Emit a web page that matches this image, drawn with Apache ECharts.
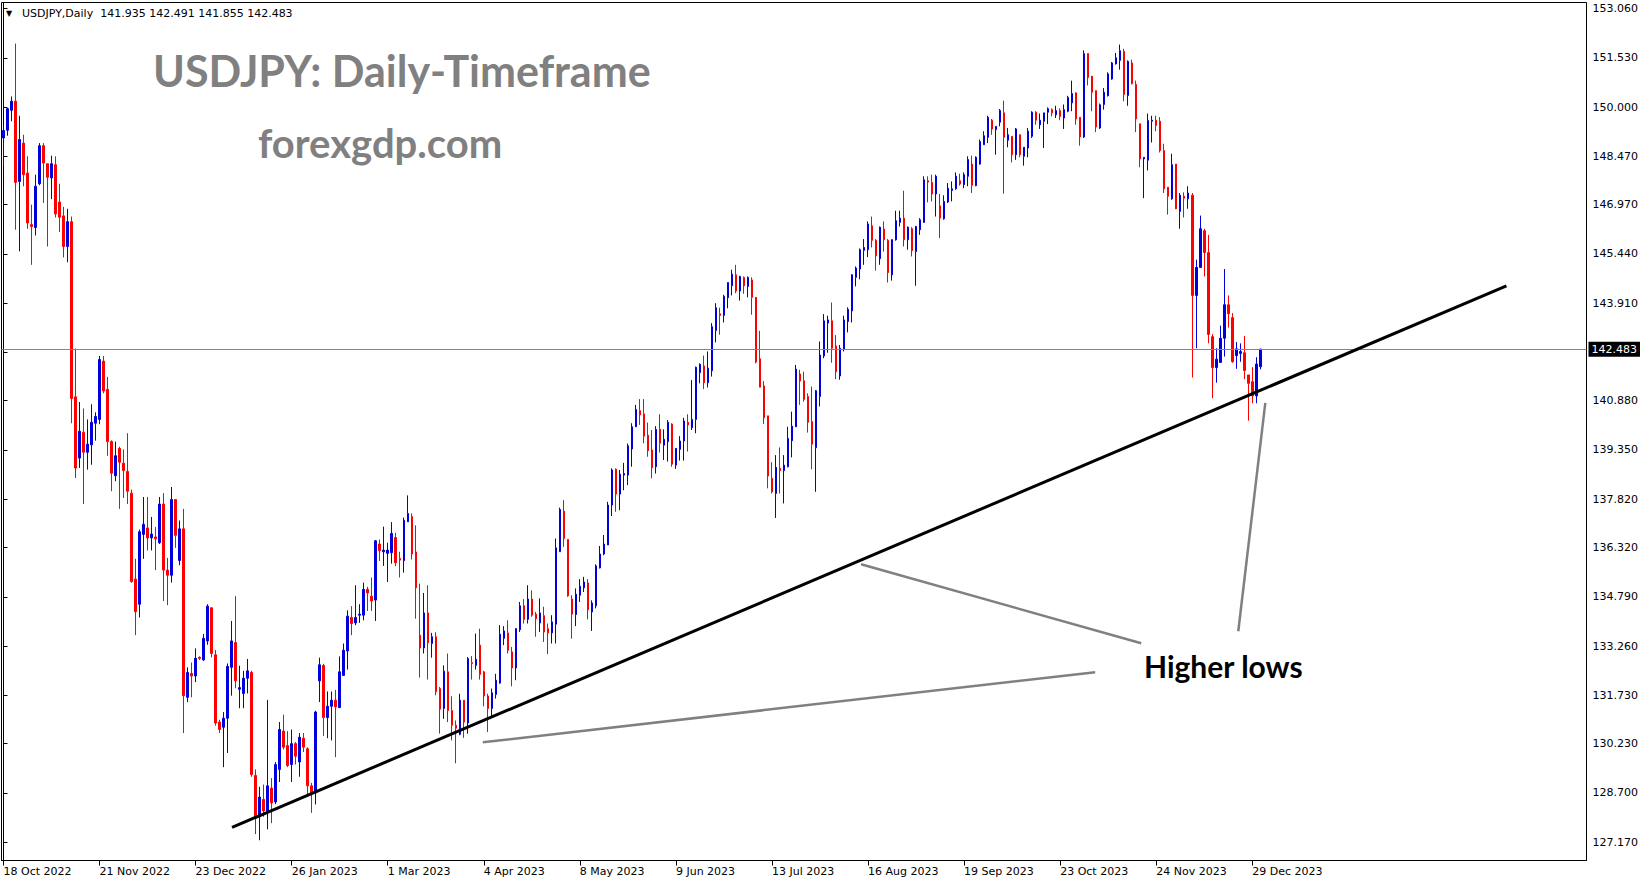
<!DOCTYPE html>
<html><head><meta charset="utf-8">
<script src="https://cdn.jsdelivr.net/npm/echarts@6/dist/echarts.min.js"></script>
<style>html,body{margin:0;padding:0;background:#fff;overflow:hidden}#c{width:1649px;height:884px}</style>
</head><body><div id="c"></div>
<script>
// ---- data ----
const opens = [149.04,149.28,149.90,150.18,147.69,148.88,147.95,146.35,146.26,147.62,148.80,148.24,147.80,148.21,147.05,146.62,145.67,146.44,141.00,139.10,
139.90,139.28,139.51,140.18,140.30,142.11,141.23,139.61,138.55,139.40,138.94,138.68,138.01,135.34,134.56,136.73,136.93,136.62,136.65,136.47,
137.67,135.62,135.46,137.81,135.92,136.90,131.67,132.41,132.33,132.91,132.83,133.42,134.45,132.99,130.90,130.74,131.02,132.60,133.37,131.92,
131.79,132.26,132.44,129.24,127.96,128.50,128.14,128.85,128.42,129.43,130.62,130.17,129.58,130.23,129.66,130.40,130.07,128.92,128.70,132.18,
132.66,131.04,131.39,131.58,131.35,132.35,133.11,134.15,133.98,134.22,134.22,135.02,134.81,134.69,136.43,136.19,136.14,136.16,136.63,135.98,
135.91,137.12,137.28,136.18,133.60,133.20,134.29,133.34,133.55,131.94,131.32,132.46,131.26,130.80,130.52,131.58,130.87,132.75,132.66,133.29,
132.46,131.71,131.32,131.76,132.11,133.50,133.67,133.08,132.58,133.77,134.51,134.09,134.72,134.25,133.98,134.20,133.80,133.67,133.94,136.19,
137.45,136.57,134.72,134.24,134.84,135.07,135.22,134.32,134.51,135.69,136.12,136.40,137.64,138.75,137.98,138.57,138.57,139.38,140.07,140.57,
140.47,139.81,139.35,138.83,139.99,139.50,139.61,140.15,138.88,139.37,139.63,140.21,140.04,140.30,141.75,141.96,141.44,141.81,143.06,143.58,
143.53,144.08,144.45,144.79,144.29,144.71,144.43,144.63,144.09,142.18,141.34,140.41,138.47,138.00,138.78,138.71,138.83,139.64,140.07,141.71,
141.50,141.01,140.23,139.42,141.01,142.27,143.29,143.36,142.58,141.65,142.48,143.34,143.67,144.71,144.97,145.55,145.57,146.31,145.86,145.29,
146.21,145.86,144.79,145.88,146.42,146.55,145.88,146.22,145.51,146.19,146.42,147.71,147.66,147.30,146.93,146.53,147.05,147.41,147.46,147.71,
147.59,147.85,148.23,147.56,148.23,148.83,149.06,149.59,149.30,149.53,149.82,148.97,149.09,148.52,149.14,148.47,148.73,149.09,149.84,149.45,
149.56,149.84,149.92,149.76,149.89,149.66,149.87,150.13,150.44,149.68,149.07,151.66,150.96,150.51,149.35,150.08,150.35,150.87,151.34,151.45,
151.73,150.36,151.37,150.70,149.48,148.39,148.35,149.56,149.59,149.56,148.65,147.51,147.15,148.23,146.76,147.23,147.15,147.26,144.15,145.02,
146.16,145.48,142.87,141.91,142.07,142.82,143.86,143.46,142.28,142.35,142.37,141.68,141.47,141.03,141.935];
const highs = [149.42,149.97,150.33,151.97,149.73,149.14,148.47,146.97,147.90,148.88,148.88,148.24,148.49,148.47,147.62,146.90,146.84,146.60,142.50,140.84,
140.64,140.30,140.77,140.52,142.27,142.27,141.62,139.65,139.61,139.45,139.37,139.87,138.12,135.97,136.88,137.89,137.89,137.27,136.96,137.89,
138.01,136.00,138.20,137.81,137.16,137.52,132.60,132.75,133.19,132.94,133.64,134.56,134.45,133.14,130.97,131.21,132.72,134.04,134.81,132.65,
132.49,132.86,132.49,129.43,128.89,128.96,131.59,129.16,129.66,130.90,131.13,130.62,130.67,130.28,130.56,130.56,130.12,129.01,131.25,132.90,
132.71,131.85,131.85,131.90,132.94,133.34,134.37,134.50,135.15,134.56,135.23,135.10,135.39,136.55,136.57,136.97,136.47,137.11,136.78,136.19,
137.25,137.94,137.38,137.01,135.20,134.91,135.15,133.67,133.69,131.99,132.66,133.03,131.70,130.95,131.78,131.58,132.92,132.95,133.65,133.80,
132.49,131.78,131.94,132.40,133.91,133.88,134.06,133.23,133.82,134.63,134.72,135.15,134.99,134.32,134.74,134.48,133.96,134.22,136.60,137.56,
137.79,136.57,134.84,135.05,135.34,135.41,135.34,134.68,135.80,136.37,136.71,137.74,138.78,138.78,138.73,138.95,139.55,140.18,140.75,140.93,
140.93,140.20,139.97,140.09,140.46,139.99,140.28,140.18,139.40,139.78,140.35,140.46,141.52,141.94,142.04,142.28,142.41,143.29,143.91,143.77,
144.17,144.55,144.95,145.10,144.76,144.74,144.74,144.71,144.09,143.05,141.49,140.41,138.97,139.19,139.43,139.19,140.07,140.54,141.99,141.84,
141.78,141.11,141.32,141.21,142.72,143.57,143.52,143.93,142.92,142.61,143.52,143.78,144.81,145.05,145.61,145.90,146.45,146.60,145.90,146.29,
146.45,145.90,145.90,146.78,146.78,147.40,146.29,146.27,146.31,146.55,147.85,147.85,147.90,147.90,147.30,147.26,147.64,147.69,147.97,147.93,
147.97,148.47,148.49,148.47,148.99,149.25,149.73,149.63,149.40,149.94,150.20,149.35,149.09,149.35,149.14,148.75,149.35,149.87,149.87,149.80,
149.82,149.99,149.96,150.04,149.96,150.08,150.35,150.82,150.46,149.68,151.76,151.66,150.96,150.51,150.11,150.59,151.08,151.40,151.68,151.94,
151.81,151.45,151.47,150.82,149.48,148.44,149.80,149.73,149.73,149.69,148.86,147.51,148.55,148.23,147.33,147.35,147.54,147.33,145.26,146.63,
146.22,146.03,142.95,142.51,143.21,144.97,144.15,143.60,142.70,142.66,142.89,141.68,141.92,142.23,142.491];
const lows = [148.16,149.11,149.56,146.19,145.52,147.54,146.22,145.10,146.01,147.57,147.02,145.67,147.14,146.57,146.12,145.33,145.18,140.18,138.48,138.79,
137.67,138.74,138.89,139.64,140.15,141.11,139.17,138.07,138.38,137.52,137.86,137.67,135.23,133.60,134.15,135.97,136.23,136.23,135.62,136.43,
134.66,134.53,135.23,136.31,135.77,130.56,131.52,131.67,132.14,132.83,132.80,133.30,132.91,130.79,130.56,129.50,129.94,131.72,131.95,131.33,
131.33,131.79,129.20,127.42,127.23,127.96,127.57,127.76,128.35,129.04,130.05,129.50,129.04,129.58,129.20,129.97,128.58,128.08,128.34,131.52,
130.47,130.40,130.33,129.81,131.35,132.35,132.53,133.60,133.91,133.98,134.06,134.35,134.35,134.04,135.90,135.75,135.25,135.82,135.74,135.39,
135.54,137.12,135.95,134.11,132.28,133.03,132.22,132.90,131.73,130.54,131.00,130.90,130.33,129.62,130.49,130.41,130.54,132.22,132.53,132.22,
131.39,130.59,131.06,131.63,132.09,133.29,133.03,132.01,132.20,133.70,133.96,133.96,134.17,133.55,133.70,133.39,133.01,133.34,133.34,136.19,
136.34,134.79,133.49,133.88,134.63,134.94,134.09,133.73,134.43,135.67,136.08,136.40,137.30,137.43,137.48,138.10,138.26,138.83,140.07,140.13,
139.56,139.14,138.47,138.62,139.27,139.04,138.99,138.83,138.76,139.02,139.02,139.30,139.97,139.87,141.42,141.24,141.29,141.63,142.69,142.93,
143.31,143.75,144.15,144.22,143.99,144.20,144.09,143.55,142.04,141.30,140.16,138.16,138.00,137.24,138.00,137.69,138.81,139.12,140.07,140.75,
140.85,139.89,138.75,138.05,140.70,142.20,142.37,142.06,141.55,141.53,142.41,143.00,143.31,144.43,144.65,145.10,145.34,145.64,144.92,145.10,
145.51,144.55,144.61,145.85,146.29,145.67,145.57,145.36,144.45,146.03,146.40,147.04,147.07,146.60,145.93,146.50,147.02,147.07,147.43,147.56,
147.48,147.54,147.33,147.54,148.21,148.83,148.88,149.14,148.52,149.40,147.31,148.75,148.28,148.36,148.44,148.18,148.44,149.04,149.45,149.32,
148.73,149.47,149.71,149.66,149.59,149.32,149.84,149.87,149.45,148.80,149.04,150.67,149.87,149.22,149.32,149.92,150.33,150.85,151.32,151.16,
150.18,150.04,150.70,149.22,148.13,147.17,148.03,148.90,149.25,148.59,147.33,146.66,147.12,146.83,146.22,146.57,146.84,141.60,142.51,145.02,
144.74,142.66,140.96,141.44,142.06,142.25,143.15,142.06,141.87,142.09,141.55,140.26,140.80,140.80,141.855];
const closes = [149.27,149.95,150.18,147.66,148.99,147.90,146.40,146.29,147.54,148.80,148.26,147.82,148.24,146.68,146.58,145.67,146.44,140.95,138.79,139.93,
139.28,139.53,140.21,140.39,142.16,141.18,139.61,138.63,139.17,138.97,138.71,138.07,135.26,134.33,136.81,137.04,136.62,136.74,136.59,137.67,
135.62,135.46,137.81,136.70,136.90,131.72,132.44,132.33,132.88,132.88,133.50,134.50,133.03,130.87,130.67,131.02,132.63,133.42,132.18,131.97,
132.26,132.49,129.27,127.93,128.57,128.14,128.92,128.39,129.58,130.67,130.12,129.55,130.23,129.84,130.43,130.12,128.92,128.70,131.21,132.68,
131.04,131.39,131.58,131.37,132.46,133.13,134.19,133.96,134.15,134.25,135.02,134.91,134.66,136.53,136.22,136.24,136.24,136.76,135.85,135.93,
137.17,137.38,136.12,135.07,133.20,134.29,133.36,133.55,131.84,131.30,132.48,131.26,130.80,130.71,131.58,130.90,132.87,132.72,132.85,132.38,
131.71,131.32,131.81,132.20,133.63,133.73,133.13,132.58,133.80,134.51,134.09,134.72,134.22,134.11,134.29,133.70,133.67,134.01,136.31,137.50,
136.60,134.82,134.25,134.87,135.12,135.25,134.39,134.60,135.75,136.12,136.43,137.64,138.73,137.98,138.60,138.62,139.48,140.07,140.61,140.44,
139.78,139.33,138.80,139.99,139.56,139.68,140.21,138.91,139.40,139.63,140.25,140.13,140.30,141.92,142.01,141.44,141.89,143.18,143.77,143.53,
144.12,144.55,144.81,144.29,144.74,144.45,144.71,144.09,142.08,141.30,140.35,138.54,138.05,138.81,138.71,138.88,139.71,140.09,141.86,141.49,
140.92,140.21,139.53,141.19,142.30,143.36,143.39,142.51,141.78,142.51,143.39,143.72,144.79,145.00,145.57,145.64,146.37,145.86,145.38,146.27,
145.88,144.86,145.88,146.47,146.55,145.88,146.27,145.54,146.29,146.50,147.74,147.67,147.30,147.85,146.55,147.07,147.48,147.46,147.85,147.61,
147.90,148.37,147.57,148.44,148.93,149.11,149.68,149.32,149.40,149.89,149.06,149.14,148.52,149.32,148.52,148.75,149.25,149.84,149.59,149.59,
149.82,149.95,149.82,149.89,149.71,149.92,150.30,150.42,149.63,149.07,151.66,150.92,150.46,149.38,150.07,150.46,151.03,151.37,151.53,151.75,
150.39,151.42,150.73,149.63,148.39,148.44,149.58,149.59,149.43,148.65,147.46,147.23,148.21,146.84,147.26,147.17,147.33,144.15,145.02,146.22,
145.48,142.94,141.91,142.17,142.82,143.86,143.58,142.09,142.49,142.41,141.82,141.42,141.03,142.02,142.483];
const dateLabels = ["18 Oct 2022","21 Nov 2022","23 Dec 2022","26 Jan 2023","1 Mar 2023","4 Apr 2023","8 May 2023",
  "9 Jun 2023","13 Jul 2023","16 Aug 2023","19 Sep 2023","23 Oct 2023","24 Nov 2023","29 Dec 2023"];
const barsPerLabel = 24;
const totalSlots = 396;
const priceTicks = [127.17,128.70,130.23,131.73,133.26,134.79,136.32,137.82,139.35,140.88,142.38,143.91,145.44,146.97,148.47,150.00,151.53,153.06];
const lastPrice = 142.483;
const headerText = "USDJPY,Daily  141.935 142.491 141.855 142.483";
const titleText = "USDJPY: Daily-Timeframe";
const siteText = "forexgdp.com";
const noteText = "Higher lows";
const trendLine = [[57.1,127.63],[375.5,144.45]];
const pointerA = [[214.25,135.80],[284.25,133.35]];
const pointerB = [[119.75,130.27],[272.75,132.45]];
const pointerC = [[308.5,133.72],[315.25,140.81]];

// ---- build ----
const categories = [];
for (let i = 0; i < totalSlots; i++) {
  const k = i / barsPerLabel;
  categories.push(i % barsPerLabel === 0 && k < dateLabels.length ? dateLabels[k] : '');
}
const candles = opens.map((o, i) => [o, closes[i], lows[i], highs[i]]);
const F = 'DejaVu Sans';
const showLbl = (idx, val) => val !== '';
const BULL = '#0000dd', BEAR = '#ff0000';

const chart = echarts.init(document.getElementById('c'), null, {renderer: 'svg'});
chart.setOption({
  animation: false,
  backgroundColor: '#ffffff',
  grid: {left: 1.5, right: 62.5, top: 2.5, bottom: 23.5, show: true, borderColor: '#000', borderWidth: 1, backgroundColor: 'transparent'},
  xAxis: [{
    type: 'category', data: categories, boundaryGap: true, position: 'bottom',
    axisLine: {show: true, lineStyle: {color: '#000', width: 1}},
    axisTick: {show: true, interval: showLbl, alignWithLabel: true, length: 5, lineStyle: {color: '#000'}},
    axisLabel: {show: true, interval: showLbl, align: 'left', margin: 5, color: '#000', fontFamily: F, fontSize: 11},
    splitLine: {show: false}
  }, {
    type: 'value', min: -0.5, max: totalSlots - 0.5, show: false
  }],
  yAxis: [{
    type: 'value', position: 'right', min: 126.601, max: 153.247, scale: true,
    axisLine: {show: true, lineStyle: {color: '#000', width: 1}},
    axisTick: {show: true, length: 4, customValues: priceTicks, lineStyle: {color: '#000'}},
    axisLabel: {show: true, customValues: priceTicks, margin: 6, color: '#000', fontFamily: F, fontSize: 11,
      formatter: v => Number(v).toFixed(3)},
    splitLine: {show: false}
  }],
  series: [{
    type: 'candlestick', name: 'USDJPY', xAxisIndex: 0, yAxisIndex: 0, data: candles, barWidth: 2,
    itemStyle: {color: BULL, color0: BEAR, borderColor: BULL, borderColor0: BEAR, borderWidth: 1},
    markLine: {
      silent: true, symbol: 'none', animation: false,
      data: [{yAxis: lastPrice}],
      lineStyle: {color: '#778899', width: 1, type: 'solid'},
      label: {show: true, position: 'end', distance: 2, formatter: lastPrice.toFixed(3), color: '#fff',
        backgroundColor: '#000', padding: [2, 3, 2, 3], fontFamily: F, fontSize: 11}
    }
  }, {
    type: 'line', xAxisIndex: 1, yAxisIndex: 0, data: trendLine, symbol: 'none', z: 5,
    lineStyle: {color: '#000', width: 3}
  }, {
    type: 'line', xAxisIndex: 1, yAxisIndex: 0, data: pointerA, symbol: 'none', z: 5,
    lineStyle: {color: '#808080', width: 2.5}
  }, {
    type: 'line', xAxisIndex: 1, yAxisIndex: 0, data: pointerB, symbol: 'none', z: 5,
    lineStyle: {color: '#808080', width: 2.5}
  }, {
    type: 'line', xAxisIndex: 1, yAxisIndex: 0, data: pointerC, symbol: 'none', z: 5,
    lineStyle: {color: '#808080', width: 2.5}
  }],
  graphic: [
    {type: 'text', left: 6, top: 9, style: {text: '\u25BC', fill: '#000', font: '8px ' + F}},
    {type: 'text', left: 22, top: 8, style: {text: headerText, fill: '#000', font: '11px ' + F}},
    {type: 'text', left: 153, top: 49, style: {text: titleText, fill: '#808080', font: 'bold 43px Lato'}},
    {type: 'text', left: 258, top: 123, style: {text: siteText, fill: '#808080', font: 'bold 40px Lato'}},
    {type: 'text', left: 1144, top: 651, style: {text: noteText, fill: '#000', font: 'bold 30px Lato'}}
  ]
});
</script></body></html>
